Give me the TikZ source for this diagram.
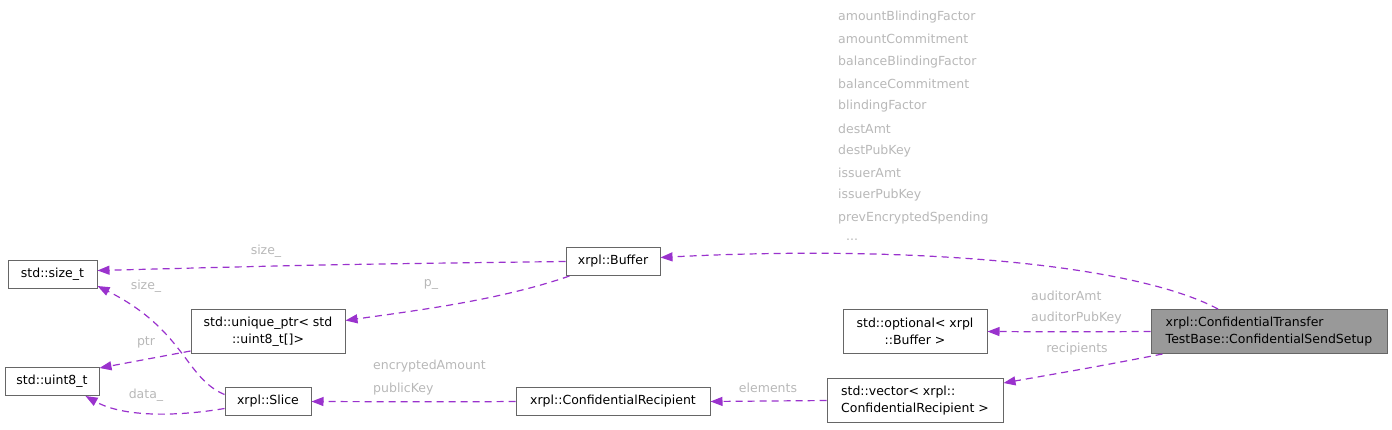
\documentclass[tikz,border=0pt]{standalone}
\usepackage{fontspec}
\setmainfont{DejaVu Sans}
\usepackage{xcolor}
\usepackage{tikz}
\usetikzlibrary{arrows.meta, positioning, calc}
\definecolor{edgecol}{HTML}{9A32CD}
\definecolor{lblcol}{HTML}{B8B8B8}
\definecolor{boxline}{HTML}{666666}
\definecolor{mainfill}{HTML}{999999}

\begin{document}
\begin{tikzpicture}[x=1pt, y=-1pt,
  cls/.style={rectangle, draw=boxline, fill=white, line width=1pt, font=\fontsize{12.5}{17}\selectfont, inner sep=0pt, minimum height=28pt, align=center},
  mainbox/.style={cls, fill=mainfill, align=left},
  uses/.style={draw=edgecol, dash pattern=on 7pt off 5pt, line width=1.2pt, -{Triangle[length=12pt, width=9pt]}},
  lbl/.style={font=\fontsize{12.5}{15}\selectfont, text=lblcol, inner sep=0pt}
]
  \useasboundingbox (0,0) rectangle (1392,429);

  % Class boxes
  \node[cls, minimum width=89pt] (sizet) at (52.5,274.5) {std::size\_t};
  \node[cls, minimum width=94pt] (uintt) at (52,381.5) {std::uint8\_t};
  \node[cls, minimum width=154pt, minimum height=44pt] (uptr) at (268,331.5) {std::unique\_ptr< std\\::uint8\_t[]>};
  \node[cls, minimum width=86pt] (slice) at (268,401.5) {xrpl::Slice};
  \node[cls, minimum width=94pt] (buffer) at (613,261.5) {xrpl::Buffer};
  \node[cls, minimum width=194pt] (recip) at (613,401.5) {xrpl::ConfidentialRecipient};
  \node[cls, minimum width=144pt, minimum height=44pt] (optbuf) at (915,331.5) {std::optional< xrpl\\::Buffer >};
  \node[cls, align=left, minimum width=176pt, minimum height=44pt] (vec) at (915,400.5) {std::vector< xrpl::\\ConfidentialRecipient >};
  \node[mainbox, minimum width=236pt, minimum height=44pt] (setup) at (1269,331.5) {xrpl::ConfidentialTransfer\\TestBase::ConfidentialSendSetup};

  % Usage edges (near-flat ones get a tiny bend)
  \draw[uses] ($(setup.north)+(-51,0)$) .. controls (1130,262) and (900,245) .. ($(buffer.east)+(0,-4)$);
  \draw[uses] (setup.west) .. controls (1070,331.9) .. (optbuf.east);
  \draw[uses] ($(setup.south west)+(12,0)$) .. controls (1100,366) .. ($(vec.north east)+(0,5)$);
  \draw[uses] (vec.west) -- (recip.east);
  \draw[uses] (recip.west) .. controls (450,401.9) .. (slice.east);
  \draw[uses] (buffer.west) .. controls (330,264.5) .. ($(sizet.east)+(0,-4)$);
  \draw[uses] ($(buffer.south west)+(4,0)$) .. controls (500,300) and (420,310) .. ($(uptr.east)+(0,-11)$);
  \draw[uses] ($(slice.west)+(0,-7)$) .. controls (185,378) and (185,330) .. ($(sizet.south east)+(0,-3)$);
  \draw[uses] ($(slice.west)+(0,7)$) .. controls (180,416) and (125,418) .. ($(uintt.south east)+(-14,0)$);
  \draw[uses] ($(uptr.south west)+(0,-3)$) -- ($(uintt.north east)+(0,1)$);

  % Member names on the edges
  \node[lbl] (lsize) at (266,251) {size\_};
  \node[lbl] (lp) at (431,284) {p\_};
  \node[lbl] (lsize2) at (146,286) {size\_};
  \node[lbl] (lptr) at (146,342) {ptr};
  \node[lbl] (ldata) at (146,395) {data\_};
  \node[lbl, anchor=west] (lenc) at (373,366) {encryptedAmount};
  \node[lbl, anchor=west] (lpub) at (373,389) {publicKey};
  \node[lbl] (lelem) at (768,388) {elements};
  \node[lbl, anchor=west] (laud) at (1031,296) {auditorAmt};
  \node[lbl, anchor=west] (laudpk) at (1031,318) {auditorPubKey};
  \node[lbl] (lrecp) at (1077,349) {recipients};
  \foreach \m [count=\k] in {amountBlindingFactor, amountCommitment, balanceBlindingFactor,
      balanceCommitment, blindingFactor, destAmt, destPubKey, issuerAmt, issuerPubKey,
      prevEncryptedSpending}{
    \node[lbl, anchor=west] (mem\k) at (838,{17+(\k-1)*22.3}) {\m};
  }
  \node[lbl] (more) at (852,240) {...};
\end{tikzpicture}
\end{document}
